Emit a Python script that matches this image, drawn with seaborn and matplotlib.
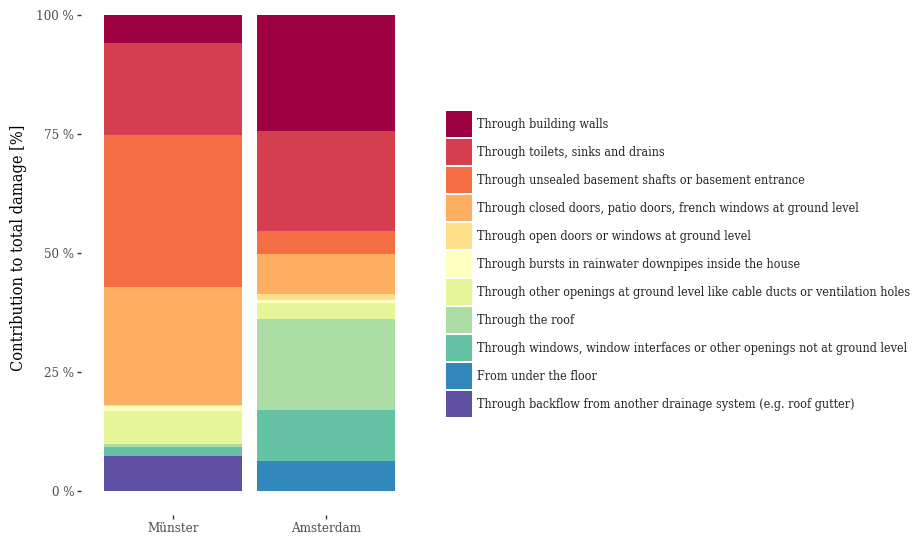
import numpy as np
import pandas as pd
import matplotlib
matplotlib.use("Agg")
import matplotlib.pyplot as plt
from matplotlib.patches import Patch
import seaborn as sns

# data (percent of total damage), bottom -> top
cities = ["Münster", "Amsterdam"]
pathways = [
    "Through backflow from another drainage system (e.g. roof gutter)",
    "From under the floor",
    "Through windows, window interfaces or other openings not at ground level",
    "Through the roof",
    "Through other openings at ground level like cable ducts or ventilation holes",
    "Through bursts in rainwater downpipes inside the house",
    "Through open doors or windows at ground level",
    "Through closed doors, patio doors, french windows at ground level",
    "Through unsealed basement shafts or basement entrance",
    "Through toilets, sinks and drains",
    "Through building walls",
]
muenster = [7.3, 0.0, 1.9, 0.8, 6.9, 1.0, 0.1, 24.9, 31.9, 19.3, 5.9]
amsterdam = [0.0, 6.3, 10.7, 19.1, 3.4, 0.6, 1.3, 8.4, 4.8, 21.0, 24.4]
colors = ["#5e4fa2", "#3288bd", "#66c2a5", "#abdda4", "#e6f598", "#ffffbf",
          "#fee08b", "#fdae61", "#f46d43", "#d53e4f", "#9e0142"]

sns.set_style("white")
plt.rcParams["font.family"] = ["DejaVu Serif"]
plt.rcParams["font.stretch"] = "condensed"

df = pd.DataFrame({"city": np.repeat(cities, len(pathways)),
                   "pathway": pathways * 2,
                   "value": muenster + amsterdam})
df["cum"] = df.groupby("city")["value"].cumsum()
df["cum"] = df["cum"] / df.groupby("city")["value"].transform("sum") * 100

fig = plt.figure(figsize=(9.17, 5.36), dpi=100)
ax = fig.add_axes([81 / 917, 21 / 536, (418 - 81) / 917, (515 - 15) / 536])

# draw cumulative bars from the top layer down so lower ones cover them
for p, c in reversed(list(zip(pathways, colors))):
    sub = df[df["pathway"] == p]
    sns.barplot(data=sub, x="city", y="cum", order=cities, color=c,
                width=0.9, linewidth=0, saturation=1, ax=ax)

ax.set_xlim(-0.6, 1.6)
ax.set_ylim(-5, 100)
ax.set_yticks([0, 25, 50, 75, 100])
ax.set_yticklabels(["0 %", "25 %", "50 %", "75 %", "100 %"])
ax.set_xlabel("")
ax.set_ylabel("Contribution to total damage [%]", fontsize=11.7, color="black")
ax.yaxis.set_label_coords(-0.16, 0.534)
for s in ax.spines.values():
    s.set_visible(False)
ax.tick_params(axis="both", left=True, bottom=True, length=3, width=1,
               color="#333333", labelcolor="#4d4d4d", labelsize=9.5, pad=2)

handles = [Patch(facecolor=c, edgecolor="none") for c in colors][::-1]
labels = pathways[::-1]
fs = 9.0
fig.legend(handles, labels, loc="upper left",
           bbox_to_anchor=(446 / 917, 1 - 111 / 536), frameon=False,
           fontsize=fs, handlelength=26 / (fs * 100 / 72),
           handleheight=(26 / (fs * 100 / 72) - 0.245) / 0.65,
           labelspacing=2 / (fs * 100 / 72), handletextpad=0.42,
           borderpad=0, borderaxespad=0)

fig.savefig("out.png", dpi=100)
